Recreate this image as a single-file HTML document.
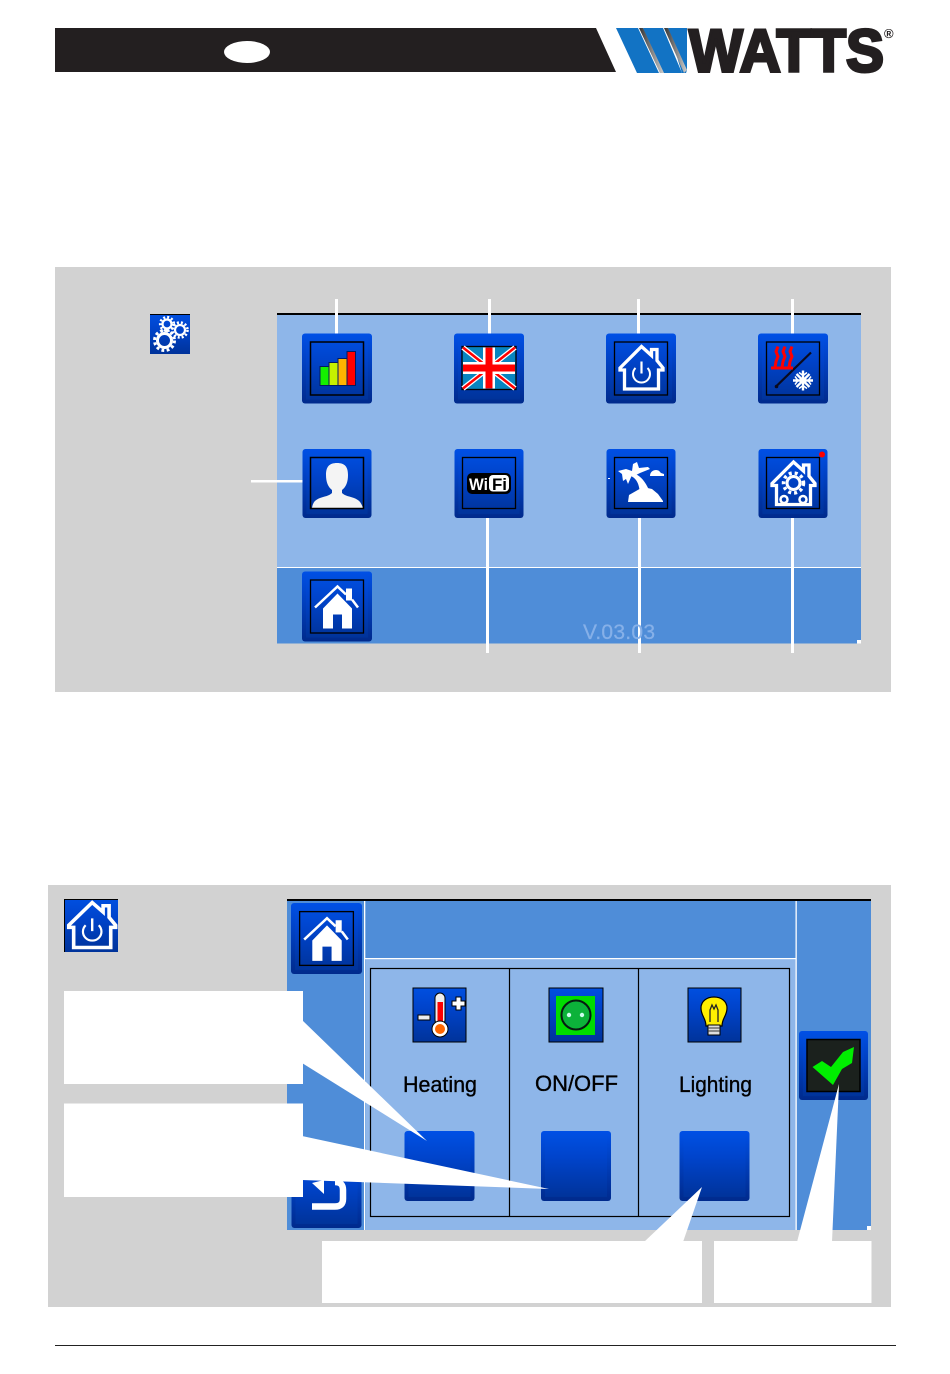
<!DOCTYPE html>
<html lang="en"><head><meta charset="utf-8"><title>Watts</title>
<style>html,body{margin:0;padding:0;background:#fff}svg{display:block}</style></head>
<body>
<svg xmlns="http://www.w3.org/2000/svg" width="950" height="1374" viewBox="0 0 950 1374" font-family="'Liberation Sans',sans-serif">
<defs>
<linearGradient id="go" x1="0" y1="0" x2="0" y2="1"><stop offset="0" stop-color="#0050e6"/><stop offset="1" stop-color="#002a8c"/></linearGradient>
<linearGradient id="gi" x1="0" y1="0" x2="0" y2="1"><stop offset="0" stop-color="#004fe0"/><stop offset=".35" stop-color="#0044cc"/><stop offset="1" stop-color="#00339a"/></linearGradient>
<linearGradient id="sh" x1="0" y1="0" x2="1" y2="0"><stop offset="0" stop-color="#333"/><stop offset="1" stop-color="#ccc"/></linearGradient>
<symbol id="btn" viewBox="0 0 70 70" overflow="visible">
<rect x="0" y="0" width="70" height="70" rx="3" fill="url(#go)"/>
<rect x="4" y="4" width="62" height="62" fill="url(#gi)"/>
</symbol>
<symbol id="frame" viewBox="0 0 70 70"><rect x="8.5" y="8.5" width="53" height="53" fill="none" stroke="#000" stroke-width="1.3"/></symbol>
<symbol id="house" viewBox="0 0 70 70"><path d="M35.500 13 L45.500 22 V16 H51 V27 L57 34.500 V36.500 H52.500 V55.500 H18.500 V36.500 H14 V34.500 Z" fill="none" stroke="#fff" stroke-width="3.300" stroke-linejoin="miter"/></symbol>
<symbol id="power" viewBox="0 0 70 70"><path d="M29.500 32.500 A8.500 8.500 0 1 0 41.500 32.500" fill="none" stroke="#fff" stroke-width="2"/><path d="M35.500 26 V38" stroke="#fff" stroke-width="2.200"/></symbol>
<symbol id="home" viewBox="0 0 70 70">
<path d="M13 36 L35.500 15 L44 23 M50 28 L56 36" fill="none" stroke="#fff" stroke-width="2.500"/>
<rect x="44" y="17" width="6" height="12" fill="#fff"/>
<path d="M21 57 V37 L35.500 22 L50 37 V57 H40 V43 H31 V57 Z" fill="#fff"/>
</symbol>
</defs>

<!-- header -->
<polygon points="55,28 596,28 616,72 55,72" fill="#231f20"/>
<ellipse cx="247" cy="52" rx="23" ry="11" fill="#fff"/>
<polygon points="616,28 638,28 659,73 637,73" fill="#1273c4"/>
<polygon points="643,28 663,28 682,73 660,73" fill="#1273c4"/>
<polygon points="668,28 687,28 687,70 686,73 682,73" fill="#1273c4"/>
<polygon points="639,28 643,28 664,73 660,73" fill="url(#sh)"/>
<polygon points="664,28 668,28 687,70 684,73" fill="url(#sh)"/>
<text x="689" y="71.500" font-size="60" font-weight="700" fill="#231f20" stroke="#231f20" stroke-width="3" textLength="195" lengthAdjust="spacingAndGlyphs">WATTS</text>
<text x="884" y="38" font-size="13" font-weight="700" fill="#231f20">®</text>

<!-- panel 1 -->
<rect x="55" y="267" width="836" height="425" fill="#d2d2d2"/>
<rect x="277" y="314" width="584" height="254" fill="#8eb6e9"/>
<rect x="277" y="568" width="584" height="75.500" fill="#4f8dd8"/>
<rect x="277" y="567" width="584" height="1" fill="#fff"/>
<rect x="277" y="313" width="584" height="2" fill="#000"/>
<rect x="857" y="640" width="4" height="3.500" fill="#fff"/>

<rect x="150" y="314" width="40" height="40" fill="url(#gi)"/>
<rect x="150" y="314" width="40" height="1" fill="#000"/>
<g fill="none" stroke="#fff">
<circle cx="164.500" cy="340.500" r="7" stroke-width="3"/><circle cx="164.500" cy="340.500" r="10" stroke-width="3" stroke-dasharray="2.800 2.500"/>
<circle cx="167" cy="324" r="4.500" stroke-width="2.200"/><circle cx="167" cy="324" r="6.800" stroke-width="2.600" stroke-dasharray="2 2"/>
<circle cx="180" cy="330" r="5" stroke-width="2.200"/><circle cx="180" cy="330" r="7.500" stroke-width="2.600" stroke-dasharray="2 2"/>
</g>

<!-- callout lines -->
<g fill="#fff">
<rect x="335" y="299" width="3" height="35"/><rect x="488" y="299" width="3" height="35"/><rect x="637" y="299" width="3" height="35"/><rect x="791" y="299" width="3" height="35"/>
<rect x="251" y="480" width="52" height="2.500"/>
<rect x="486" y="517" width="3" height="136"/><rect x="638" y="517" width="3" height="136"/><rect x="791" y="517" width="3" height="136"/>
</g>
<text x="583" y="639" font-size="21" fill="#86b0e8" stroke="#86b0e8" stroke-width=".25" textLength="72">V.03.03</text>

<!-- row 1 -->
<g transform="translate(302,333.500)"><use href="#btn" width="70" height="70"/>
<rect x="8.500" y="8.500" width="53" height="53" fill="none" stroke="#000" stroke-width="1.500"/>
<rect x="18" y="33" width="9" height="19" fill="#14f000" stroke="#021a60"/><rect x="27" y="29" width="9" height="23" fill="#c6f000" stroke="#021a60"/><rect x="36" y="25" width="9" height="27" fill="#ffb400" stroke="#021a60"/><rect x="45" y="18" width="8.500" height="34" fill="#f00" stroke="#021a60"/>
</g>
<g transform="translate(454,333.500)"><use href="#btn" width="70" height="70"/>
<rect x="8" y="13" width="54" height="43" fill="#0885c0" stroke="#000" stroke-width="1.300"/>
<path d="M9 14 L61 55 M61 14 L9 55" stroke="#fff" stroke-width="5"/>
<path d="M9 14 L61 55 M61 14 L9 55" stroke="#f00" stroke-width="2.500"/>
<path d="M35 14 V55 M9 34.500 H61" stroke="#fff" stroke-width="12"/>
<path d="M35 14 V55 M9 34.500 H61" stroke="#f00" stroke-width="7"/>
</g>
<g transform="translate(606,333.500)"><use href="#btn" width="70" height="70"/><use href="#frame" width="70" height="70"/><use href="#house" width="70" height="70"/>
<use href="#power" width="70" height="70" y="2"/></g>
<g transform="translate(758,333.500)"><use href="#btn" width="70" height="70"/><use href="#frame" width="70" height="70"/>
<path d="M18 53 L53 19" stroke="#0a0a1e" stroke-width="2.200"/><circle cx="18.500" cy="53" r="1.800" fill="#0a0a1e"/>
<g fill="none" stroke="#f00" stroke-width="3"><path d="M20 13 l-2 5 l2 5 l-2 5 l-1 6"/><path d="M27 13 l-2 5 l2 5 l-2 5 l-1 6"/><path d="M34 13 l-2 5 l2 5 l-2 5 l-1 6"/></g>
<rect x="13" y="33" width="22" height="3" fill="#f00"/>
<g stroke="#fff" stroke-width="2.400" fill="none"><path d="M45 37 V57 M35 47 H55 M38.500 40.500 L51.500 53.500 M51.500 40.500 L38.500 53.500"/></g>
<g stroke="#fff" stroke-width="1.500" fill="none"><path d="M41 39 L45 42 L49 39 M41 55 L45 52 L49 55 M37 43 L40 47 L37 51 M53 43 L50 47 L53 51"/></g>
</g>

<!-- row 2 -->
<g transform="translate(302,449)"><use href="#btn" width="70" height="69"/>
<path d="M10 59 C11 53 13 51 18 49 C22 47.500 27 47 30 44 V41 C26 38 24 33 24 26 C24 18 27 14 35 14 C43 14 46 18 46 26 C46 33 44 38 40 41 V44 C43 47 48 47.500 52 49 C57 51 59 53 61 59 Z" fill="#f4f4f4"/>
<rect x="8.500" y="8.500" width="53" height="51" fill="none" stroke="#000" stroke-width="1.500"/></g>
<g transform="translate(454,449)"><use href="#btn" width="70" height="69"/>
<rect x="8.500" y="8.500" width="53" height="51" fill="none" stroke="#000" stroke-width="1.300"/>
<rect x="13" y="24" width="44" height="21" rx="5" fill="#000"/>
<rect x="35" y="26" width="20" height="16.500" rx="4" fill="#fff"/>
<text x="15" y="41" font-size="17" font-weight="700" fill="#fff" textLength="19" lengthAdjust="spacingAndGlyphs">Wi</text>
<text x="38" y="41" font-size="17" font-weight="700" fill="#000" textLength="15" lengthAdjust="spacingAndGlyphs">Fi</text>
</g>
<g transform="translate(606,449)"><use href="#btn" width="70" height="69"/>
<rect x="8.500" y="8.500" width="53" height="51" fill="none" stroke="#000" stroke-width="1.300"/>
<path d="M22 53 L23 46 L30 42 L37 38 L46 40 L52 45 L57 52 V53 Z" fill="#fff"/>
<path d="M27 24 C34 26 39 32 43 41 L34 44 C33 35 31 30 25 27 Z" fill="#fff"/>
<path d="M12 22 L20 20 L26 22 L27 15 L31 13 L33 19 L42 18 L44 20 L34 24 L30 26 L26 26 L22 35 L20 30 L17 32 L16 25 Z" fill="#fff"/>
<path d="M44 27 C44 23 47 21 50 21 C53 21 54 23 55 24 L58 25 V27 Z" fill="#fff"/>
<rect x="2" y="29" width="2" height="1" fill="#fff"/>
</g>
<g transform="translate(758,449)"><use href="#btn" width="70" height="69"/>
<rect x="8.500" y="8.500" width="53" height="51" fill="none" stroke="#000" stroke-width="1.300"/>
<use href="#house" width="70" height="70"/>
<circle cx="35.500" cy="34" r="6.500" fill="none" stroke="#fff" stroke-width="3"/>
<circle cx="35.500" cy="34" r="10" fill="none" stroke="#fff" stroke-width="3.500" stroke-dasharray="3 3"/>
<circle cx="26" cy="50.500" r="3.500" fill="none" stroke="#fff" stroke-width="2.500"/>
<circle cx="45" cy="50.500" r="3.500" fill="none" stroke="#fff" stroke-width="2.500"/>
<circle cx="64" cy="5.500" r="3" fill="#f00"/>
</g>
<g transform="translate(302,571.500)"><use href="#btn" width="70" height="70"/><use href="#frame" width="70" height="70"/><use href="#home" width="70" height="70"/></g>

<!-- panel 2 -->
<rect x="48" y="885" width="843" height="422" fill="#d2d2d2"/>
<rect x="287" y="900" width="584" height="330" fill="#4f8dd8"/>
<rect x="366" y="959" width="430" height="271" fill="#8eb6e9"/>
<rect x="364" y="901" width="1.300" height="329" fill="#fff"/>
<rect x="365" y="958" width="431" height="1.200" fill="#fff"/>
<rect x="795.500" y="901" width="1.300" height="329" fill="#fff"/>
<rect x="287" y="899" width="584" height="2" fill="#000"/>
<rect x="867" y="1226" width="4" height="4" fill="#fff"/>

<g transform="translate(64,899)"><rect width="54" height="53" fill="url(#gi)"/>
<rect width="54" height="1" fill="#000"/><rect width="1" height="53" fill="#000"/>
<g transform="translate(-10.500,-10.200) scale(1.090,1.057)"><use href="#house" width="70" height="70"/><use href="#power" width="70" height="70" y="2"/></g></g>

<g transform="translate(291,903)"><use href="#btn" width="71" height="71"/><use href="#frame" width="71" height="71"/><use href="#home" width="71" height="71"/></g>
<g transform="translate(291,1158)"><use href="#btn" width="71" height="70"/>
<path d="M21 48.500 H44 Q52 48.500 52 41 V32 Q52 24 44 24" fill="none" stroke="#fff" stroke-width="6.500"/>
<path d="M21 25 L33 36 L33 22 Z" fill="#fff"/></g>

<!-- table -->
<rect x="370.500" y="968.500" width="419" height="248" fill="none" stroke="#000" stroke-width="1.200"/>
<path d="M509.500 968 V1216 M638.500 968 V1216" stroke="#000" stroke-width="1.200"/>

<g transform="translate(413,988)"><rect width="53" height="54" fill="url(#gi)" stroke="#000" stroke-width="1"/>
<rect x="22" y="5" width="10" height="32" rx="5" fill="#eee" stroke="#000"/>
<rect x="24.500" y="14" width="5.500" height="24" fill="#f00"/>
<circle cx="27" cy="41" r="8" fill="#fff" stroke="#000"/><circle cx="27" cy="41" r="5" fill="#ff6600"/>
<rect x="5" y="27" width="12" height="5" fill="#eee" stroke="#000"/>
<path d="M39 13 h4 v-4 h5 v4 h4 v5 h-4 v4 h-5 v-4 h-4 z" fill="#fff" stroke="#000"/></g>
<g transform="translate(549,988)"><rect width="54" height="54" fill="url(#gi)" stroke="#000" stroke-width="1"/>
<rect x="7" y="8" width="39" height="39" fill="#00dc00"/>
<circle cx="27" cy="27" r="14.500" fill="#0cb23a" stroke="#061a10" stroke-width="2"/>
<circle cx="20" cy="27" r="2.200" fill="#cfe"/><circle cx="33" cy="27" r="2.200" fill="#cfe"/></g>
<g transform="translate(688,988)"><rect width="53" height="54" fill="url(#gi)" stroke="#000" stroke-width="1"/>
<path d="M18 38 C18 30 13 28 13 20 C13 13 19 9 26 9 C33 9 39 13 39 20 C39 28 34 30 34 38 Z" fill="#ffef00" stroke="#000" stroke-width="1.200"/>
<path d="M22 34 V22 L24 17 L26 21 L28 17 L30 22 V34" fill="none" stroke="#222" stroke-width="1.300"/>
<rect x="20" y="37" width="12" height="10" fill="#ddd" stroke="#000"/><path d="M20 40 H32 M20 43 H32" stroke="#333"/></g>

<g font-size="22" fill="#000" stroke="#000" stroke-width=".35">
<text x="403" y="1092" textLength="74" lengthAdjust="spacingAndGlyphs">Heating</text>
<text x="535" y="1091" textLength="83" lengthAdjust="spacingAndGlyphs">ON/OFF</text>
<text x="679" y="1092" textLength="73" lengthAdjust="spacingAndGlyphs">Lighting</text>
</g>

<use href="#btn" x="404" y="1131" width="71" height="70"/>
<use href="#btn" x="541" y="1131" width="70" height="70"/>
<use href="#btn" x="679" y="1131" width="71" height="70"/>

<g transform="translate(798,1031)"><use href="#btn" width="71" height="69"/>
<rect x="9" y="8.500" width="53" height="52" fill="#1b211d" stroke="#000" stroke-width="1.500"/>
<path d="M14.500 36 L24 30 L33 36 L45 21 L56 16 L54 32 L44 38 L35 54 Z" fill="#00ee00"/></g>

<!-- white boxes and pointers -->
<g fill="#fff">
<rect x="64" y="991" width="239" height="93"/>
<rect x="64" y="1103.500" width="239" height="93.500"/>
<rect x="322" y="1241" width="380" height="62"/>
<rect x="714" y="1241" width="157.500" height="62"/>
<polygon points="302,1020 427,1141 302,1063"/>
<polygon points="302,1136 549,1189 302,1180"/>
<polygon points="644,1242 702,1187 683,1242"/>
<polygon points="797,1242 839,1084 832,1242"/>
</g>

<!-- footer -->
<rect x="55" y="1345" width="841" height="1" fill="#222"/>
</svg>
</body></html>
